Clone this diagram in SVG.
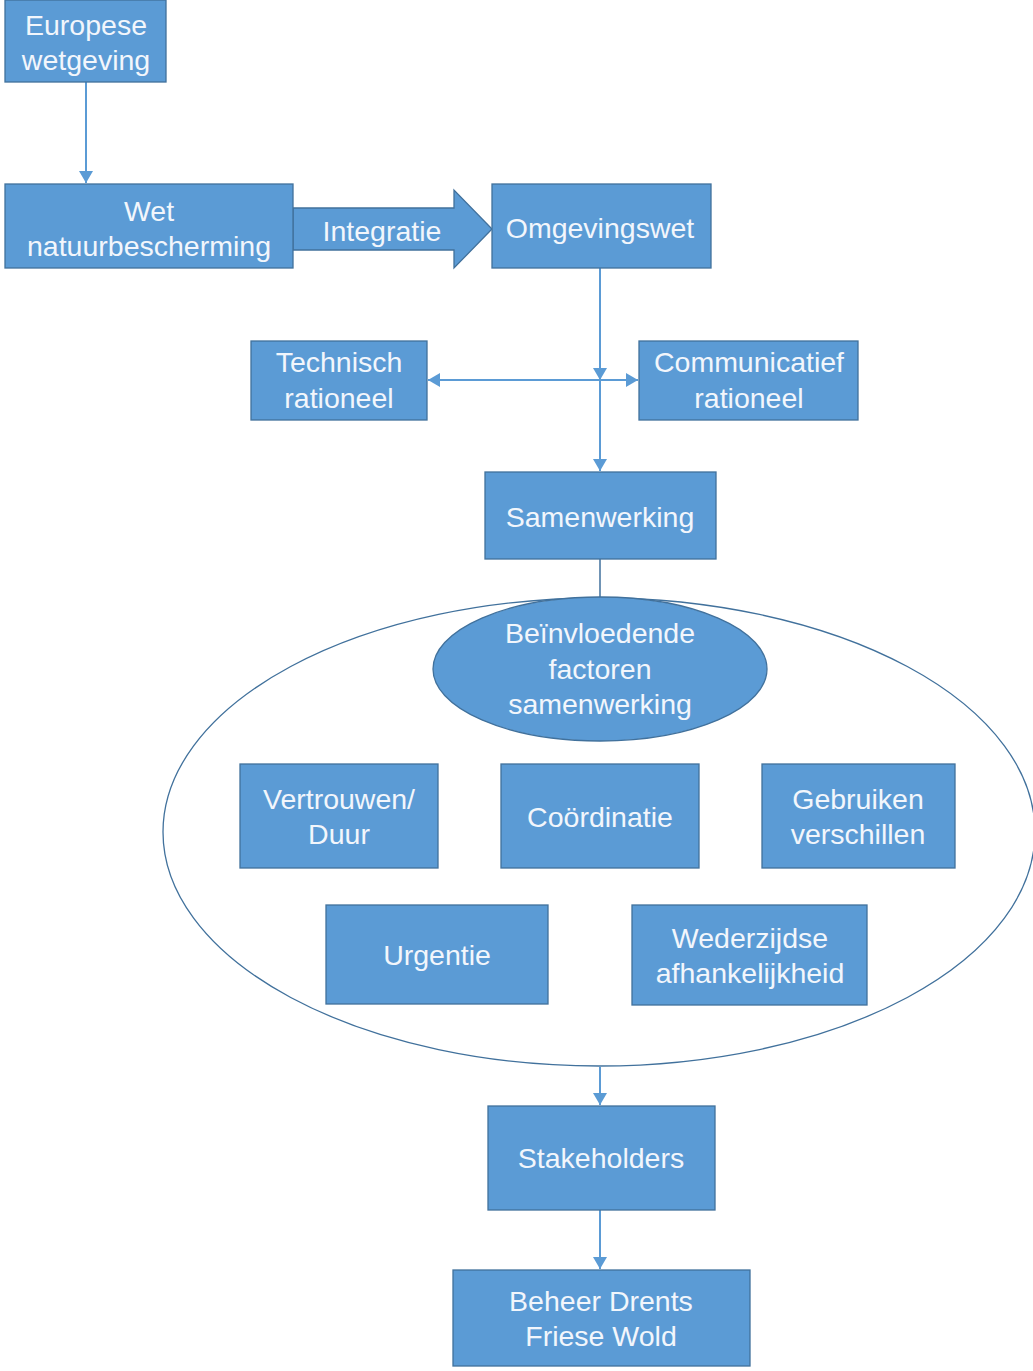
<svg xmlns="http://www.w3.org/2000/svg" width="1033" height="1371" viewBox="0 0 1033 1371">
<style>
.box{fill:#5B9BD5;stroke:#41719C;stroke-width:1.3}
.t{fill:#F2F6FC;font-family:"Liberation Sans",Arial,sans-serif;font-size:28.5px;text-anchor:middle}
.c{fill:none;stroke:#5B9BD5;stroke-width:2}
</style>
<defs>
<marker id="ah" markerUnits="userSpaceOnUse" markerWidth="14" markerHeight="14" refX="12" refY="7" orient="auto-start-reverse">
<path d="M0,0 L12,7 L0,14 Z" fill="#5B9BD5"/>
</marker>
</defs>
<rect width="1033" height="1371" fill="#FFFFFF"/>
<g id="connectors">
<line class="c" x1="86" y1="82" x2="86" y2="183" marker-end="url(#ah)"/>
<line class="c" x1="600" y1="268" x2="600" y2="380" marker-end="url(#ah)"/>
<line class="c" x1="600" y1="380" x2="600" y2="471" marker-end="url(#ah)"/>
<line class="c" x1="428" y1="380" x2="638" y2="380" marker-start="url(#ah)" marker-end="url(#ah)"/>
<line x1="600" y1="559" x2="600" y2="598" stroke="#41719C" stroke-width="1.5"/>
<line class="c" x1="600" y1="1067" x2="600" y2="1105" marker-end="url(#ah)"/>
<line class="c" x1="600" y1="1210" x2="600" y2="1269" marker-end="url(#ah)"/>
</g>
<g id="integratie">
<path class="box" d="M293,208 L454,208 L454,190 L492,229 L454,268 L454,250 L293,250 Z"/>
<text class="t" x="382" y="241">Integratie</text>
</g>
<g id="europese">
<rect class="box" x="5" y="0" width="161" height="82"/>
<text class="t" x="86" y="35">Europese</text>
<text class="t" x="86" y="70">wetgeving</text>
</g>
<g id="wet">
<rect class="box" x="5" y="184" width="288" height="84"/>
<text class="t" x="149" y="221">Wet</text>
<text class="t" x="149" y="256">natuurbescherming</text>
</g>
<g id="omgevingswet">
<rect class="box" x="492" y="184" width="219" height="84"/>
<text class="t" x="600" y="238">Omgevingswet</text>
</g>
<g id="technisch">
<rect class="box" x="251" y="341" width="176" height="79"/>
<text class="t" x="339" y="372">Technisch</text>
<text class="t" x="339" y="408">rationeel</text>
</g>
<g id="communicatief">
<rect class="box" x="639" y="341" width="219" height="79"/>
<text class="t" x="749" y="372">Communicatief</text>
<text class="t" x="749" y="408">rationeel</text>
</g>
<g id="samenwerking">
<rect class="box" x="485" y="472" width="231" height="87"/>
<text class="t" x="600" y="527">Samenwerking</text>
</g>
<g id="factoren-groep">
<ellipse cx="599" cy="832" rx="436" ry="234" fill="none" stroke="#41719C" stroke-width="1.3"/>
</g>
<g id="beinvloedende">
<ellipse class="box" cx="600" cy="669" rx="167" ry="72"/>
<text class="t" x="600" y="643">Beïnvloedende</text>
<text class="t" x="600" y="679">factoren</text>
<text class="t" x="600" y="714">samenwerking</text>
</g>
<g id="vertrouwen">
<rect class="box" x="240" y="764" width="198" height="104"/>
<text class="t" x="339" y="809">Vertrouwen/</text>
<text class="t" x="339" y="844">Duur</text>
</g>
<g id="coordinatie">
<rect class="box" x="501" y="764" width="198" height="104"/>
<text class="t" x="600" y="827">Coördinatie</text>
</g>
<g id="gebruiken">
<rect class="box" x="762" y="764" width="193" height="104"/>
<text class="t" x="858" y="809">Gebruiken</text>
<text class="t" x="858" y="844">verschillen</text>
</g>
<g id="urgentie">
<rect class="box" x="326" y="905" width="222" height="99"/>
<text class="t" x="437" y="965">Urgentie</text>
</g>
<g id="wederzijdse">
<rect class="box" x="632" y="905" width="235" height="100"/>
<text class="t" x="750" y="948">Wederzijdse</text>
<text class="t" x="750" y="983">afhankelijkheid</text>
</g>
<g id="stakeholders">
<rect class="box" x="488" y="1106" width="227" height="104"/>
<text class="t" x="601" y="1168">Stakeholders</text>
</g>
<g id="beheer">
<rect class="box" x="453" y="1270" width="297" height="96"/>
<text class="t" x="601" y="1311">Beheer Drents</text>
<text class="t" x="601" y="1346">Friese Wold</text>
</g>
</svg>
